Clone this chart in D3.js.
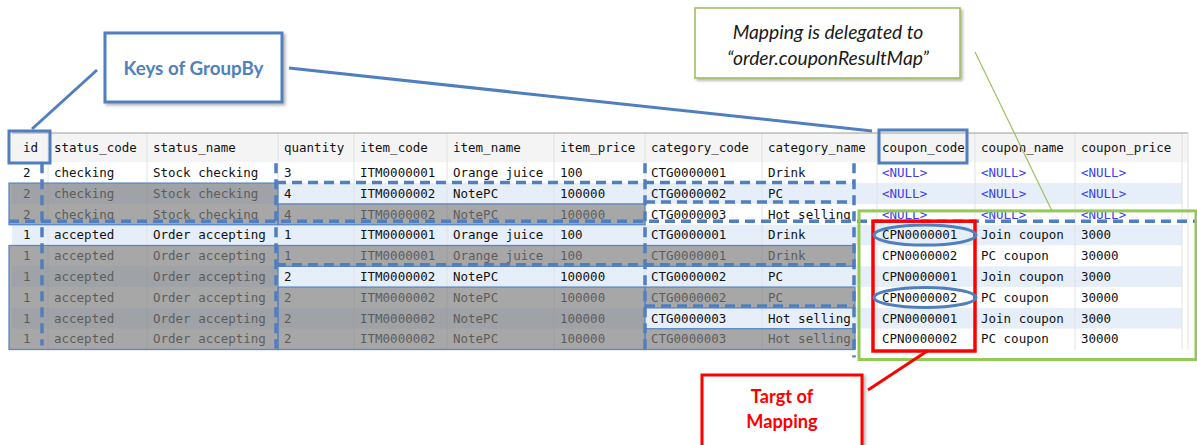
<!DOCTYPE html>
<html><head><meta charset="utf-8">
<script src="https://cdn.jsdelivr.net/npm/d3@7/dist/d3.min.js"></script>
<style>html,body{margin:0;padding:0;background:#fff;overflow:hidden}</style>
</head><body><svg id="c" width="1197" height="445"></svg>
<script>
// ---------- data ----------
const columns = ["id","status_code","status_name","quantity","item_code","item_name","item_price","category_code","category_name","coupon_code","coupon_name","coupon_price"];
const ids = ["2","2","2","1","1","1","1","1","1"];
const statusCodes = ["checking","checking","checking","accepted","accepted","accepted","accepted","accepted","accepted"];
const statusNames = ["Stock checking","Stock checking","Stock checking","Order accepting","Order accepting","Order accepting","Order accepting","Order accepting","Order accepting"];
const quantities = ["3","4","4","1","1","2","2","2","2"];
const itemCodes = ["ITM0000001","ITM0000002","ITM0000002","ITM0000001","ITM0000001","ITM0000002","ITM0000002","ITM0000002","ITM0000002"];
const itemNames = ["Orange juice","NotePC","NotePC","Orange juice","Orange juice","NotePC","NotePC","NotePC","NotePC"];
const itemPrices = ["100","100000","100000","100","100","100000","100000","100000","100000"];
const categoryCodes = ["CTG0000001","CTG0000002","CTG0000003","CTG0000001","CTG0000001","CTG0000002","CTG0000002","CTG0000003","CTG0000003"];
const categoryNames = ["Drink","PC","Hot selling","Drink","Drink","PC","PC","Hot selling","Hot selling"];
const couponCodes = [null,null,null,"CPN0000001","CPN0000002","CPN0000001","CPN0000002","CPN0000001","CPN0000002"];
const couponNames = [null,null,null,"Join coupon","PC coupon","Join coupon","PC coupon","Join coupon","PC coupon"];
const couponPrices = [null,null,null,"3000","30000","3000","30000","3000","30000"];
const keysLabel = "Keys of GroupBy";
const mappingLabel = ["Mapping is delegated to", "\u201corder.couponResultMap\u201d"];
const targetLabel = ["Targt of", "Mapping"];
// cells masked in grey (row range, column range)
const greyBlocks = [
  {r:[1,2], c:[0,2]}, {r:[2,2], c:[3,6]}, {r:[4,8], c:[0,2]}, {r:[4,4], c:[3,8]},
  {r:[6,8], c:[3,6]}, {r:[6,6], c:[7,8]}, {r:[8,8], c:[7,8]}
];
const circledRows = [3, 6];

// ---------- layout ----------
const svg = d3.select("#c");
const colEdges = [12,48,147,278,354,447,554,645,762,877,975,1075,1182];
const xCol = d3.scaleOrdinal().domain(columns).range(colEdges.slice(0,-1));
const xEnd = c => colEdges[columns.indexOf(c)+1];
const yRow = d3.scaleBand().domain(d3.range(ids.length)).range([162.3, 349.5]);
const bw = yRow.bandwidth();
const headTop = 133;
const BLUE = "#4f7fbe";

const series = [ids,statusCodes,statusNames,quantities,itemCodes,itemNames,itemPrices,categoryCodes,categoryNames,couponCodes,couponNames,couponPrices];
const rows = d3.range(ids.length).map(i => columns.map((c,j) => series[j][i]));

const defs = svg.append("defs");
const f = defs.append("filter").attr("id","sh").attr("x","-10%").attr("y","-10%").attr("width","130%").attr("height","140%");
f.append("feDropShadow").attr("dx",2).attr("dy",2).attr("stdDeviation",1.5).attr("flood-color","#000").attr("flood-opacity",0.3);

// header
const g = svg.append("g");
g.append("rect").attr("x",colEdges[0]).attr("y",headTop).attr("width",1188-colEdges[0]).attr("height",yRow(0)-headTop).attr("fill","#f4f4f4");
// row backgrounds
g.selectAll("rect.row").data(rows).join("rect").attr("class","row")
  .attr("x",colEdges[0]).attr("y",(d,i)=>yRow(i)).attr("width",colEdges[colEdges.length-1]-colEdges[0]).attr("height",bw)
  .attr("fill",(d,i)=> i%2 ? "#e6eefa" : "#ffffff");
// column separators
g.selectAll("line.sep").data(colEdges.slice(1)).join("line").attr("class","sep")
  .attr("x1",d=>d).attr("x2",d=>d).attr("y1",headTop).attr("y2",yRow.range()[1])
  .attr("stroke","#e2e2e2").attr("stroke-width",1);
g.append("line").attr("x1",colEdges[0]).attr("x2",1188).attr("y1",headTop).attr("y2",headTop).attr("stroke","#9c9c9c").attr("stroke-width",1.2);
g.append("line").attr("x1",1188).attr("x2",1188).attr("y1",headTop).attr("y2",yRow.range()[1]).attr("stroke","#e2e2e2");

const FONT = "'DejaVu Sans Mono', 'Liberation Mono', monospace";
const FS = 12.5;
const pad = c => c==="id" ? 11 : (c==="coupon_code" ? 5 : 6);
g.selectAll("text.h").data(columns).join("text").attr("class","h")
  .attr("x",c=>xCol(c)+pad(c)).attr("y",(headTop+yRow(0))/2).attr("dy","0.35em")
  .attr("font-family",FONT).attr("font-size",FS).attr("fill","#111").text(c=>c);

rows.forEach((r,i)=>{
  g.selectAll(null).data(r).join("text")
    .attr("x",(d,j)=>xCol(columns[j])+pad(columns[j])).attr("y",yRow(i)+bw/2).attr("dy","0.35em")
    .attr("font-family",FONT).attr("font-size",FS)
    .attr("fill",d=> d===null ? "#3c3cf2" : "#111")
    .text(d=> d===null ? "<NULL>" : d);
});

// grey masks
const bx0 = b => xCol(columns[b.c[0]]) - (b.c[0]===0 ? 3 : 0);
const bx1 = b => xEnd(columns[b.c[1]]) - (b.c[1]===8 ? 22 : 0);
svg.append("g").selectAll("rect").data(greyBlocks).join("rect")
  .attr("x",bx0).attr("y",b=>yRow(b.r[0])).attr("width",b=>bx1(b)-bx0(b))
  .attr("height",b=>yRow(b.r[1])+bw-yRow(b.r[0]))
  .attr("fill","rgba(125,125,125,0.68)").attr("stroke","#5a88c6").attr("stroke-width",1.3);

// dashed group separators
const dash = svg.append("g").attr("stroke",BLUE).attr("stroke-width",3.5).attr("stroke-dasharray","10,6").attr("fill","none");
const top0 = yRow(0)+1, bot = yRow.range()[1];
const vx = [colEdges[1]-6, colEdges[3]-2, colEdges[7], colEdges[9]-23];
const vEnd = [bot-4, bot-1, bot+2, bot+8];
vx.forEach((x,k)=> dash.append("line").attr("x1",x).attr("x2",x).attr("y1",top0).attr("y2",vEnd[k]));
const hLines = [
  {y:yRow(1)-0.5, x1:vx[1], x2:vx[3]},
  {y:yRow(2)-2, x1:vx[2], x2:vx[3]},
  {y:yRow(3)-3.5, x1:9, x2:1197},
  {y:yRow(5)-1.5, x1:vx[1], x2:vx[3]},
  {y:yRow(7)-2, x1:vx[2], x2:vx[3]}
];
hLines.forEach(h=> dash.append("line").attr("x1",h.x1).attr("x2",h.x2).attr("y1",h.y).attr("y2",h.y));

// green mapping frame
svg.append("rect").attr("x",xCol("coupon_code")-18).attr("y",yRow(2)+7).attr("width",1196-(xCol("coupon_code")-18)).attr("height",bot+10-(yRow(2)+7))
  .attr("fill","none").attr("stroke","#93c955").attr("stroke-width",3);
// red target frame
svg.append("rect").attr("x",xCol("coupon_code")-4).attr("y",yRow(3)-3.5).attr("width",xEnd("coupon_code")-(xCol("coupon_code")-4)).attr("height",bot+1.5-(yRow(3)-3.5))
  .attr("fill","none").attr("stroke","#ff0000").attr("stroke-width",3.5);
// ellipses
svg.append("g").selectAll("ellipse").data(circledRows).join("ellipse")
  .attr("cx",(xCol("coupon_code")+xEnd("coupon_code"))/2-1).attr("cy",r=>yRow(r)+bw/2).attr("rx",51).attr("ry",10)
  .attr("fill","none").attr("stroke",BLUE).attr("stroke-width",3);

// header boxes
svg.append("rect").attr("x",9).attr("y",131).attr("width",41).attr("height",32).attr("fill","none").attr("stroke",BLUE).attr("stroke-width",3);
svg.append("rect").attr("x",xCol("coupon_code")+2).attr("y",130).attr("width",xEnd("coupon_code")-xCol("coupon_code")-10).attr("height",33).attr("fill","none").attr("stroke",BLUE).attr("stroke-width",3);

// Keys of GroupBy callout
svg.append("line").attr("x1",97).attr("y1",70).attr("x2",32).attr("y2",129).attr("stroke",BLUE).attr("stroke-width",3);
svg.append("line").attr("x1",289).attr("y1",68).attr("x2",xCol("coupon_code")-5).attr("y2",131).attr("stroke",BLUE).attr("stroke-width",3);
svg.append("rect").attr("x",105).attr("y",33).attr("width",177).attr("height",69).attr("fill","#fff").attr("stroke",BLUE).attr("stroke-width",3).attr("filter","url(#sh)");
svg.append("text").attr("x",193.5).attr("y",68).attr("dy","0.35em").attr("text-anchor","middle")
  .attr("font-family","Lato, 'Open Sans', sans-serif").attr("font-weight","bold").attr("font-size",18.8).attr("fill","#4f81bd").text(keysLabel);

// mapping note
svg.append("line").attr("x1",975).attr("y1",52).attr("x2",1052).attr("y2",yRow(2)+7).attr("stroke","#9bc15f").attr("stroke-width",1.2);
svg.append("rect").attr("x",695).attr("y",8).attr("width",265).attr("height",70).attr("fill","#fff").attr("stroke","#9bbb59").attr("stroke-width",1.5).attr("filter","url(#sh)");
svg.append("g").selectAll("text").data(mappingLabel).join("text")
  .attr("x",828).attr("y",(d,i)=>32+i*26).attr("dy","0.35em").attr("text-anchor","middle")
  .attr("font-family","Lato, 'Open Sans', sans-serif").attr("font-style","italic").attr("font-size",19.3).attr("fill","#1a1a1a").text(d=>d);

// target callout
svg.append("line").attr("x1",868).attr("y1",390).attr("x2",928).attr("y2",bot+1).attr("stroke","#ff0000").attr("stroke-width",3);
svg.append("rect").attr("x",702).attr("y",375).attr("width",160).attr("height",80).attr("fill","#fff").attr("stroke","#ff0000").attr("stroke-width",3).attr("filter","url(#sh)");
svg.append("g").selectAll("text").data(targetLabel).join("text")
  .attr("x",782).attr("y",(d,i)=>397+i*25).attr("dy","0.35em").attr("text-anchor","middle")
  .attr("font-family","Lato, 'Open Sans', sans-serif").attr("font-weight","bold").attr("font-size",18.2).attr("fill","#ff0000").text(d=>d);
</script></body></html>
